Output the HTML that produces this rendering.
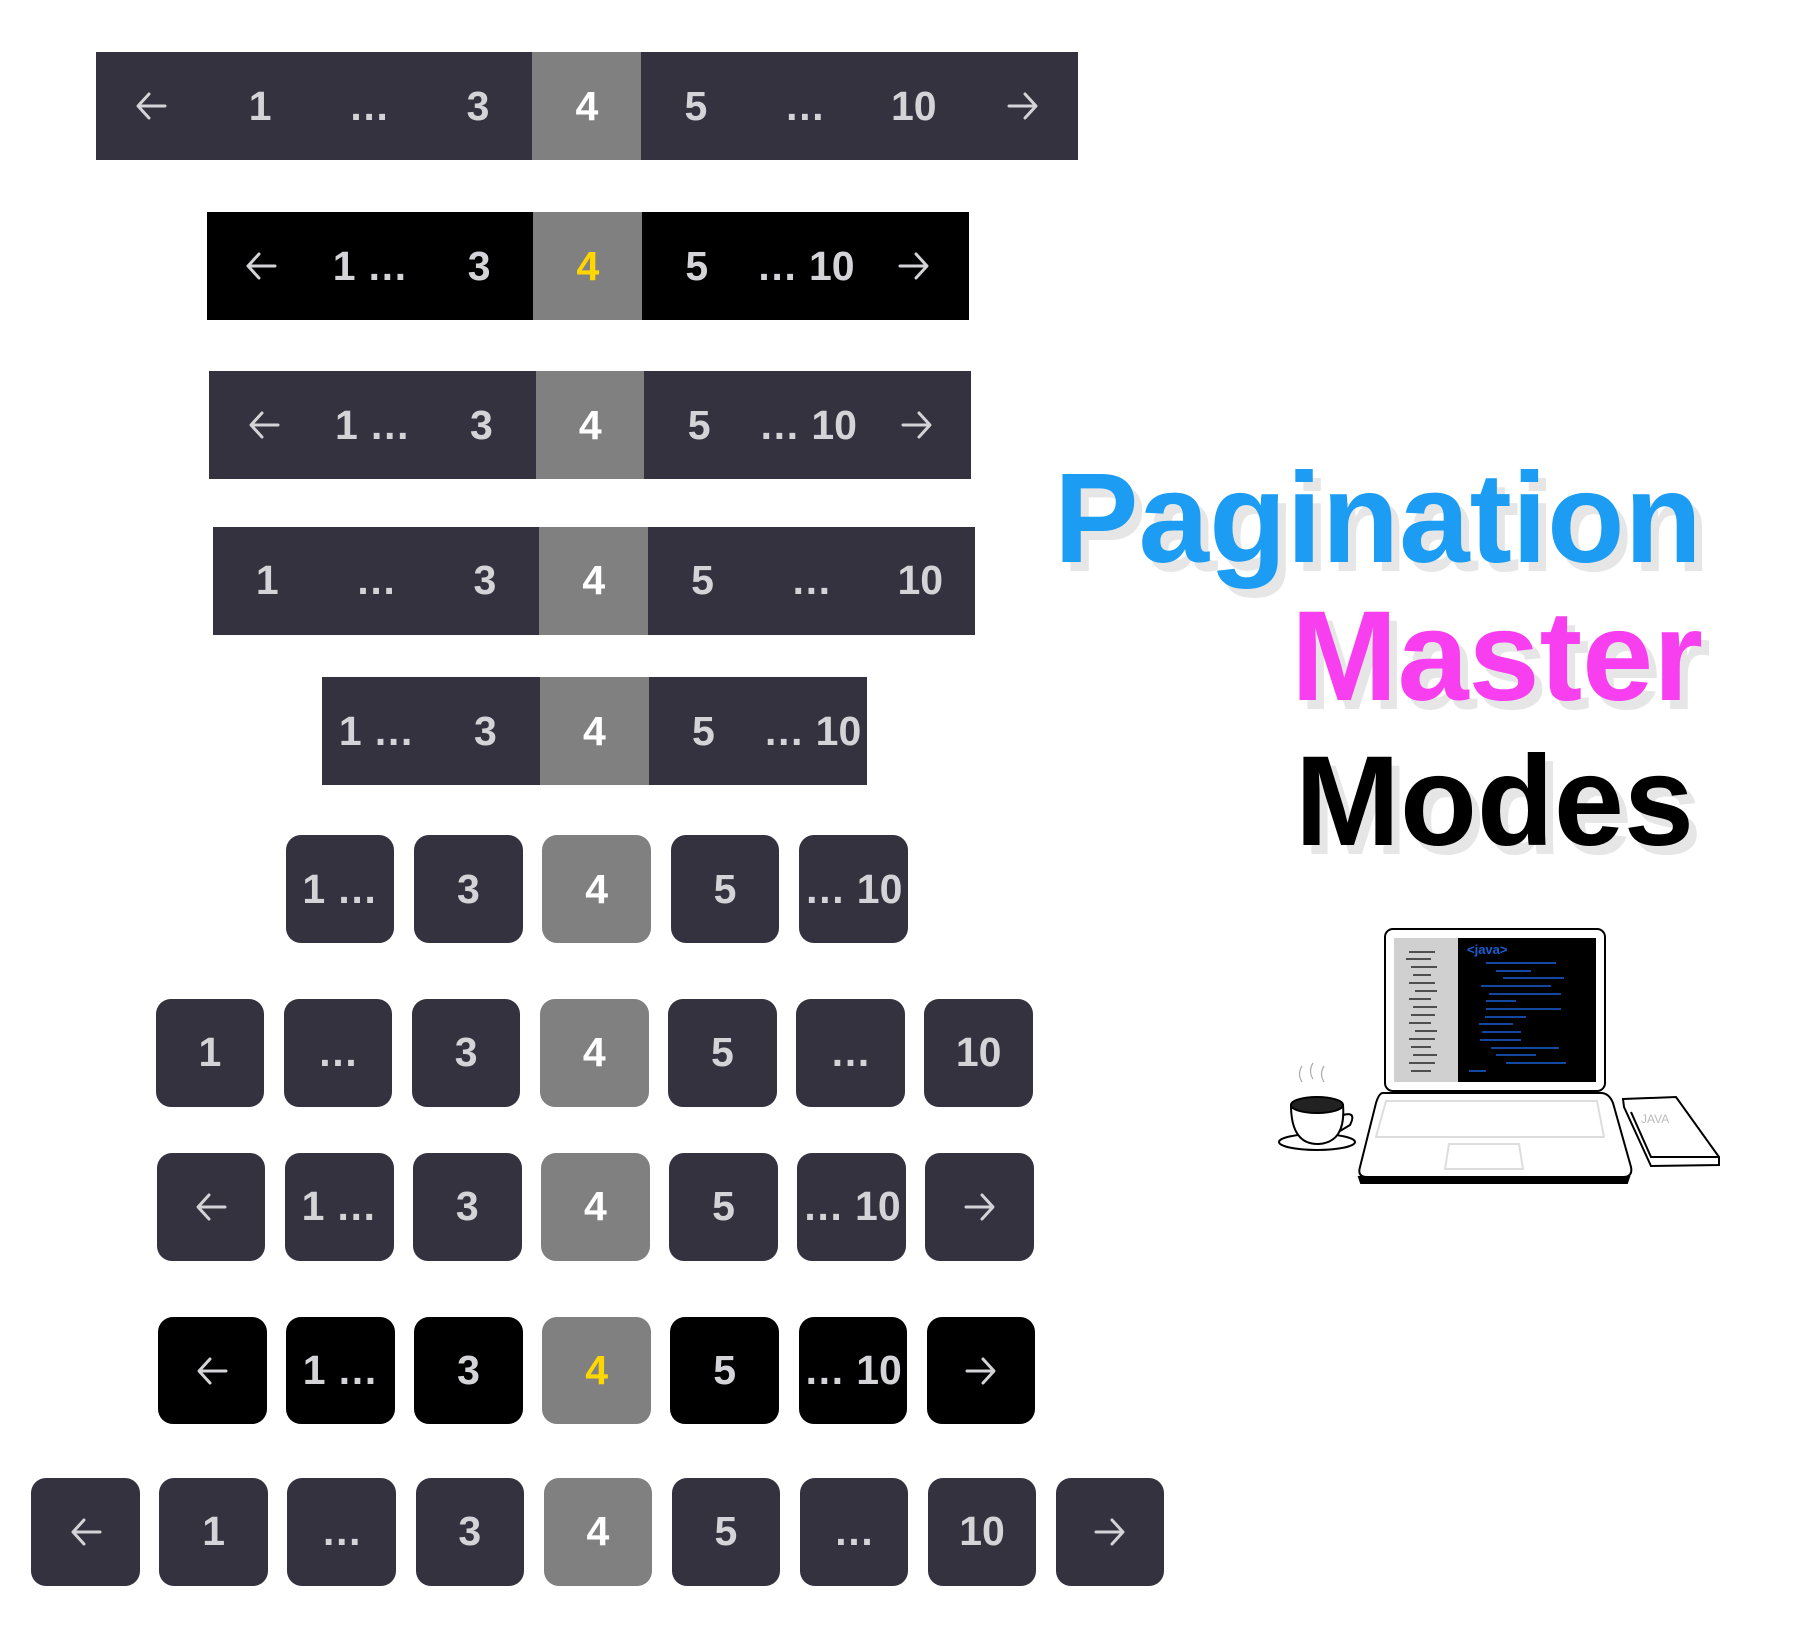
<!DOCTYPE html>
<html><head><meta charset="utf-8">
<style>
html,body{margin:0;padding:0;background:#fff;}
#root{position:relative;width:1820px;height:1640px;overflow:hidden;font-family:"Liberation Sans",sans-serif;}
.cell{position:absolute;display:flex;align-items:center;justify-content:center;font-weight:bold;font-size:41px;color:#d4d4d8;box-sizing:border-box;white-space:nowrap;}
.arrow svg{display:block;}
</style></head>
<body>
<div id="root">
<svg id="title" width="1820" height="1640" style="position:absolute;left:0;top:0">
  <g font-family="Liberation Sans, sans-serif" font-weight="bold">
    <text x="1062" y="571" font-size="128" fill="#e6e6e6" textLength="648" lengthAdjust="spacingAndGlyphs">Pagination</text>
    <text x="1054" y="562" font-size="128" fill="#1c9cf2" textLength="648" lengthAdjust="spacingAndGlyphs">Pagination</text>
    <text x="1299" y="709" font-size="128" fill="#e6e6e6" textLength="412" lengthAdjust="spacingAndGlyphs">Master</text>
    <text x="1291" y="700" font-size="128" fill="#f83ff0" textLength="412" lengthAdjust="spacingAndGlyphs">Master</text>
    <text x="1303" y="854" font-size="128" fill="#e6e6e6" textLength="399" lengthAdjust="spacingAndGlyphs">Modes</text>
    <text x="1295" y="845" font-size="128" fill="#000" textLength="399" lengthAdjust="spacingAndGlyphs">Modes</text>
  </g>
  <g transform="translate(-9,-3)" stroke="#000" stroke-width="2" fill="none">
    <rect x="1394" y="932" width="220" height="162" rx="8" fill="#fff"/>
    <rect x="1403" y="941" width="64" height="144" fill="#d0d0d0" stroke="none"/>
    <rect x="1467" y="941" width="138" height="144" fill="#000" stroke="none"/>
    <text x="1476" y="957" font-size="13" fill="#1a5fd6" stroke="none" font-family="Liberation Sans, sans-serif" font-weight="bold">&lt;java&gt;</text>
    <g stroke="#1a5fd6" stroke-width="1.5">
      <line x1="1495" y1="966" x2="1565" y2="966"/><line x1="1505" y1="974" x2="1540" y2="974"/>
      <line x1="1512" y1="981" x2="1573" y2="981"/><line x1="1490" y1="989" x2="1560" y2="989"/>
      <line x1="1498" y1="997" x2="1570" y2="997"/><line x1="1495" y1="1004" x2="1525" y2="1004"/>
      <line x1="1495" y1="1012" x2="1570" y2="1012"/><line x1="1494" y1="1020" x2="1535" y2="1020"/>
      <line x1="1488" y1="1027" x2="1522" y2="1027"/><line x1="1491" y1="1035" x2="1530" y2="1035"/>
      <line x1="1489" y1="1043" x2="1530" y2="1043"/><line x1="1500" y1="1051" x2="1568" y2="1051"/>
      <line x1="1505" y1="1058" x2="1545" y2="1058"/><line x1="1515" y1="1066" x2="1575" y2="1066"/>
      <line x1="1478" y1="1074" x2="1495" y2="1074"/>
    </g>
    <g stroke="#222" stroke-width="1.5">
      <line x1="1418" y1="955" x2="1444" y2="955"/><line x1="1415" y1="962" x2="1440" y2="962"/><line x1="1420" y1="970" x2="1446" y2="970"/>
      <line x1="1422" y1="978" x2="1440" y2="978"/><line x1="1418" y1="986" x2="1444" y2="986"/><line x1="1424" y1="994" x2="1446" y2="994"/>
      <line x1="1418" y1="1002" x2="1440" y2="1002"/><line x1="1422" y1="1010" x2="1446" y2="1010"/><line x1="1420" y1="1018" x2="1444" y2="1018"/>
      <line x1="1418" y1="1026" x2="1440" y2="1026"/><line x1="1424" y1="1034" x2="1446" y2="1034"/><line x1="1418" y1="1042" x2="1444" y2="1042"/>
      <line x1="1420" y1="1050" x2="1440" y2="1050"/><line x1="1422" y1="1058" x2="1446" y2="1058"/><line x1="1418" y1="1066" x2="1444" y2="1066"/>
      <line x1="1420" y1="1074" x2="1440" y2="1074"/>
    </g>
    <path d="M1392 1096 L1610 1096 Q1618 1096 1622 1106 L1640 1170 Q1642 1180 1632 1180 L1376 1180 Q1366 1180 1369 1170 L1385 1106 Q1388 1096 1392 1096 Z" fill="#fff"/>
    <path d="M1368 1180 L1638 1180 L1636 1186 L1370 1186 Z" fill="#000"/>
    <path d="M1395 1104 L1606 1104 L1613 1140 L1385 1140 Z" stroke="#ddd"/>
    <path d="M1458 1147 L1528 1147 L1532 1172 L1454 1172 Z" stroke="#ddd"/>
    <ellipse cx="1326" cy="1145" rx="38" ry="8" fill="#fff"/>
    <path d="M1300 1108 Q1300 1148 1328 1147 Q1355 1145 1352 1108 Z" fill="#fff"/>
    <ellipse cx="1326" cy="1108" rx="26" ry="8" fill="#222"/>
    <path d="M1352 1118 Q1366 1114 1359 1128 L1349 1134"/>
    <path d="M1311 1085 q-5 -8 0 -16 M1322 1082 q-5 -8 0 -16 M1333 1085 q-5 -8 0 -16" stroke="#aaa" stroke-width="1.2"/>
    <path d="M1632 1102 L1685 1100 L1728 1160 L1728 1168 L1660 1169 L1633 1110 Z" fill="#fff"/>
    <path d="M1640 1115 L1660 1160 L1728 1160" />
    <text x="1650" y="1126" font-size="12" fill="#bbb" stroke="none" font-family="Liberation Sans, sans-serif">JAVA</text>
  </g>
</svg>
</div>
<script>
// rows of pagination components (content labels)
const rowLabels = [
 ["←","1","…","3","4","5","…","10","→"],
 ["←","1 …","3","4","5","… 10","→"],
 ["←","1 …","3","4","5","… 10","→"],
 ["1","…","3","4","5","…","10"],
 ["1 …","3","4","5","… 10"],
 ["1 …","3","4","5","… 10"],
 ["1","…","3","4","5","…","10"],
 ["←","1 …","3","4","5","… 10","→"],
 ["←","1 …","3","4","5","… 10","→"],
 ["←","1","…","3","4","5","…","10","→"]
];
const activeLabel = "4";
const SX = 1.1615, SY = 1.160;
// layout (display coords): left, top, cell pitch, rounded?, theme
const rowLayout = [
 [83,45,93.8,false,"dark"],[178,183,93.7,false,"black"],[180,320,93.7,false,"dark"],
 [183,454,93.7,false,"dark"],[277,584,93.8,false,"dark"],[246,720,110.5,true,"dark"],
 [134,861,110.3,true,"dark"],[135,994,110.3,true,"dark"],[136,1135,110.3,true,"black"],
 [27,1274,110.25,true,"dark"]
];
const root = document.getElementById('root');
rowLabels.forEach((labels,r)=>{
  const [lx,ty,pitch,rounded,theme] = rowLayout[r];
  labels.forEach((lab,i)=>{
    const el = document.createElement('div');
    const isArrow = (lab==="←"||lab==="→");
    el.className = 'cell' + (isArrow?' arrow':'');
    const x0 = (lx + i*pitch)*SX;
    const w = (rounded ? 93 : pitch)*SX;
    el.style.left = x0+'px';
    el.style.top = (ty*SY)+'px';
    el.style.width = (w+0.6)+'px';
    el.style.height = (93*SY)+'px';
    const active = lab===activeLabel;
    el.style.background = active ? '#808080' : (theme==='black' ? '#000' : '#34323f');
    if (active) el.style.color = theme==='black' ? '#ffd700' : '#fff';
    if (rounded) el.style.borderRadius = '15px';
    if (isArrow) {
      const d = lab==="←" ? "M30 16 H4 M14 4 L3 16 L14 28" : "M2 16 H28 M18 4 L29 16 L18 28";
      el.innerHTML = '<svg width="32" height="32" viewBox="0 0 32 32"><title>'+lab+'</title><path d="'+d+'" stroke="#d4d4d8" stroke-width="3" fill="none" stroke-linecap="round" stroke-linejoin="round"/></svg>';
    } else {
      el.textContent = lab;
    }
    
    
    root.appendChild(el);
  });
});
</script>
</body></html>
